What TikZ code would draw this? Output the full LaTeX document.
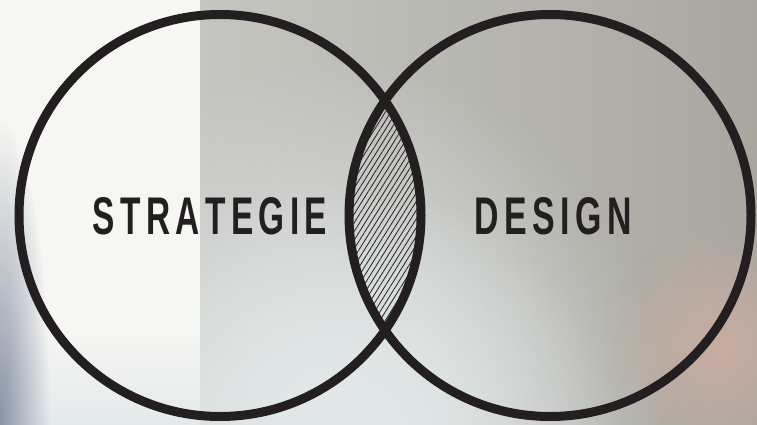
\documentclass[tikz,border=0pt]{standalone}
\usepackage{fontspec}
\setmainfont{Liberation Sans}
\usetikzlibrary{patterns.meta,fadings}

\definecolor{ink}{HTML}{231F20}
\definecolor{paper}{HTML}{F6F6F3}
\definecolor{greyA}{HTML}{D0D1CD}
\definecolor{greyC}{HTML}{A8A79F}
\definecolor{mist}{HTML}{E3E9EA}
\definecolor{steel}{HTML}{8C95A8}
\definecolor{blush}{HTML}{C9ACA2}

\newcommand{\gap}{\kern0.16em}
\tikzfading[name=blob, inner color=transparent!0, outer color=transparent!100]

\tikzset{
  ring/.style={draw=ink, line width=9pt, circle, minimum size=402pt, inner sep=0pt},
  word/.style={text=ink, font=\bfseries, inner sep=0pt},
  hatch/.style={pattern={Lines[angle=58, distance=4.6pt, line width=0.8pt]}, pattern color=ink}
}

\begin{document}
\begin{tikzpicture}[x=1pt, y=-1pt]
\useasboundingbox (0,0) rectangle (757,425);

% blurred backdrop
\shade[left color=greyA, right color=greyC] (0,0) rectangle (757,425);
\fill[mist, path fading=blob] (340,440) ellipse (330 and 380);
\fill[mist, path fading=blob] (340,440) ellipse (280 and 260);
\fill[paper] (0,0) rectangle (200,330);
\shade[top color=paper, bottom color=mist] (0,330) rectangle (200,425);
\fill[steel, path fading=blob] (0,420) ellipse (50 and 300);
\fill[blush, path fading=blob] (722,345) circle (120);

% circles
\coordinate (lc) at (220,215.5);
\coordinate (rc) at (550,215.5);
\begin{scope}
  \clip (lc) circle (201);
  \fill[hatch] (rc) circle (201);
\end{scope}
\node[ring] (strategie) at (lc) {};
\node[ring] (design) at (rc) {};

% labels
\node[word] (strat) at (210,216.5) {\resizebox{234pt}{37pt}{S\gap T\gap R\gap A\gap T\gap E\gap G\gap I\gap E}};
\node[word] (des) at (553.5,216.5) {\resizebox{157pt}{37pt}{D\gap E\gap S\gap I\gap G\gap N}};

\end{tikzpicture}
\end{document}
